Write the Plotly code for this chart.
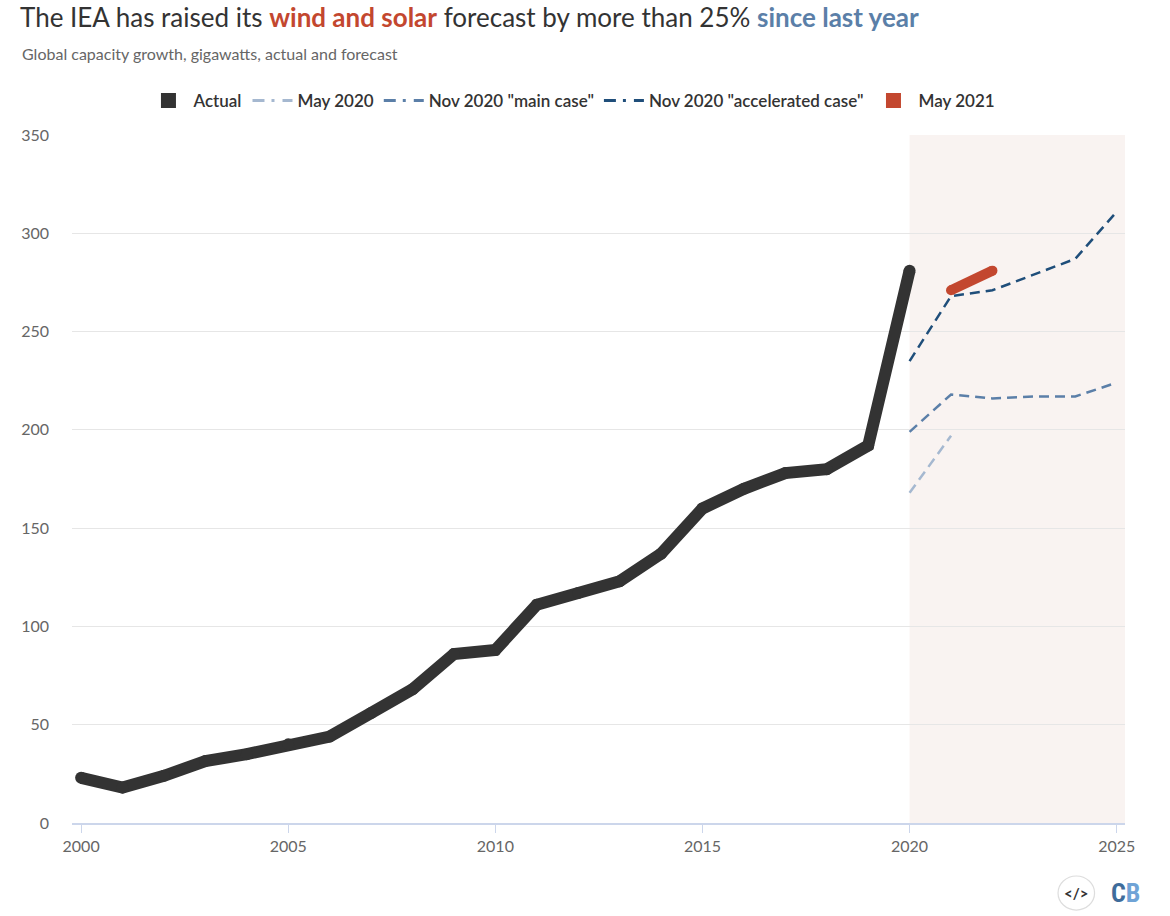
import plotly.graph_objects as go

actual_years = list(range(2000, 2021))
actual_vals = [23, 18, 24, 31.5, 35, 40, 44, 56, 68, 86, 88, 111, 117, 123, 137, 160, 170, 178, 180, 192, 281]

may2020_years = [2020, 2021]
may2020_vals = [168, 197]

nov_main_years = [2020, 2021, 2022, 2023, 2024, 2025]
nov_main_vals = [199, 218, 216, 217, 217, 224]

nov_accel_years = [2020, 2021, 2022, 2023, 2024, 2025]
nov_accel_vals = [235, 268, 271, 279, 287, 311]

may2021_years = [2021, 2022]
may2021_vals = [271, 281]

x_ticks = [2000, 2005, 2010, 2015, 2020, 2025]
y_ticks = [0, 50, 100, 150, 200, 250, 300, 350]

C_ACT = "#333333"
C_MAY20 = "#a5b8d0"
C_MAIN = "#5b7fa8"
C_ACC = "#1f4e7a"
C_MAY21 = "#c3472f"
FONT = "Lato"
DASH = "10px,6px"
LEG_DASH = "12px,7px,3px,8px"

fig = go.Figure()

fig.add_trace(go.Scatter(x=actual_years, y=actual_vals, mode="lines+markers",
                         line=dict(color=C_ACT, width=12),
                         marker=dict(color=C_ACT, size=12, line=dict(width=0)),
                         showlegend=False, name="Actual"))
fig.add_trace(go.Scatter(x=may2020_years, y=may2020_vals, mode="lines",
                         line=dict(color=C_MAY20, width=2.5, dash=DASH), showlegend=False, name="May 2020"))
fig.add_trace(go.Scatter(x=nov_main_years, y=nov_main_vals, mode="lines",
                         line=dict(color=C_MAIN, width=2.5, dash=DASH), showlegend=False, name='Nov 2020 "main case"'))
fig.add_trace(go.Scatter(x=nov_accel_years, y=nov_accel_vals, mode="lines",
                         line=dict(color=C_ACC, width=2.5, dash=DASH), showlegend=False, name='Nov 2020 "accelerated case"'))
fig.add_trace(go.Scatter(x=may2021_years, y=may2021_vals, mode="lines+markers",
                         line=dict(color=C_MAY21, width=10),
                         marker=dict(color=C_MAY21, size=10, line=dict(width=0)),
                         showlegend=False, name="May 2021"))

# legend entries
fig.add_trace(go.Scatter(x=[None], y=[None], mode="markers", name="Actual",
                         marker=dict(symbol="square", size=15, color=C_ACT)))
fig.add_trace(go.Scatter(x=[None], y=[None], mode="lines", name="May 2020",
                         line=dict(color=C_MAY20, width=3, dash=LEG_DASH)))
fig.add_trace(go.Scatter(x=[None], y=[None], mode="lines", name='Nov 2020 "main case"',
                         line=dict(color=C_MAIN, width=3, dash=LEG_DASH)))
fig.add_trace(go.Scatter(x=[None], y=[None], mode="lines", name='Nov 2020 "accelerated case"',
                         line=dict(color=C_ACC, width=3, dash=LEG_DASH)))
fig.add_trace(go.Scatter(x=[None], y=[None], mode="markers", name="May 2021",
                         marker=dict(symbol="square", size=15, color=C_MAY21)))

x_range = [1999.78, 2025.2]

fig.add_shape(type="rect", xref="x", yref="paper", x0=2020, x1=x_range[1], y0=0, y1=1,
              fillcolor="#f9f3f1", line=dict(width=0), layer="below")

fig.update_layout(
    width=1170, height=916,
    margin=dict(l=72, r=45, t=135, b=93),
    paper_bgcolor="white", plot_bgcolor="white",
    font=dict(family=FONT, color="#333333"),
    title=dict(
        text="The IEA has raised its <b><span style='color:#c3472f'>wind and solar</span></b> forecast by more than 25% "
             "<b><span style='color:#5b7fa8'>since last year</span></b>",
        xref="container", x=0.0171, xanchor="left", yref="container", y=0.9805, yanchor="middle",
        font=dict(family=FONT, size=26, color="#333333"),
    ),
    legend=dict(orientation="h", x=0.4748, xanchor="center", y=1.0494, yanchor="middle",
                font=dict(family=FONT, size=17, color="#333333", weight=600),
                itemwidth=40, bgcolor="rgba(0,0,0,0)"),
    xaxis=dict(range=x_range, tickvals=x_ticks, ticks="outside", ticklen=8, tickcolor="#ccd6eb",
               showgrid=False, showline=True, linecolor="#ccd6eb", linewidth=1.5, zeroline=False,
               tickfont=dict(family=FONT, size=16, color="#666666")),
    yaxis=dict(range=[0, 350], tickvals=y_ticks, showgrid=True, gridcolor="#e6e6e6", gridwidth=1,
               zeroline=False, showline=False, ticks="", ticklabelstandoff=22,
               tickfont=dict(family=FONT, size=16, color="#666666")),
)

fig.add_annotation(text="Global capacity growth, gigawatts, actual and forecast", xref="paper", yref="paper",
                   x=-0.0494, y=1.119, xanchor="left", yanchor="middle", showarrow=False,
                   font=dict(family=FONT, size=16, color="#666666"))

# footer logo
fig.add_shape(type="circle", xref="paper", yref="paper",
              x0=0.9364, x1=0.9711, y0=-0.1265, y1=-0.0770,
              line=dict(color="#dddddd", width=1.2), fillcolor="white")
fig.add_annotation(text="<b>&lt;/&gt;</b>", xref="paper", yref="paper", x=0.9537, y=-0.1017,
                   xanchor="center", yanchor="middle", showarrow=False,
                   font=dict(family=FONT, size=15, color="#333333"))
fig.add_annotation(text="<b><span style='color:#3f6c9b'>C</span><span style='color:#6fa3d6'>B</span></b>",
                   xref="paper", yref="paper", x=1.0, y=-0.1017,
                   xanchor="center", yanchor="middle", showarrow=False,
                   font=dict(family="Roboto Condensed, " + FONT, size=26))

fig.write_html("out.html", config={"displayModeBar": False},
               post_script="document.body.style.margin='0';document.body.style.overflow='hidden';")
